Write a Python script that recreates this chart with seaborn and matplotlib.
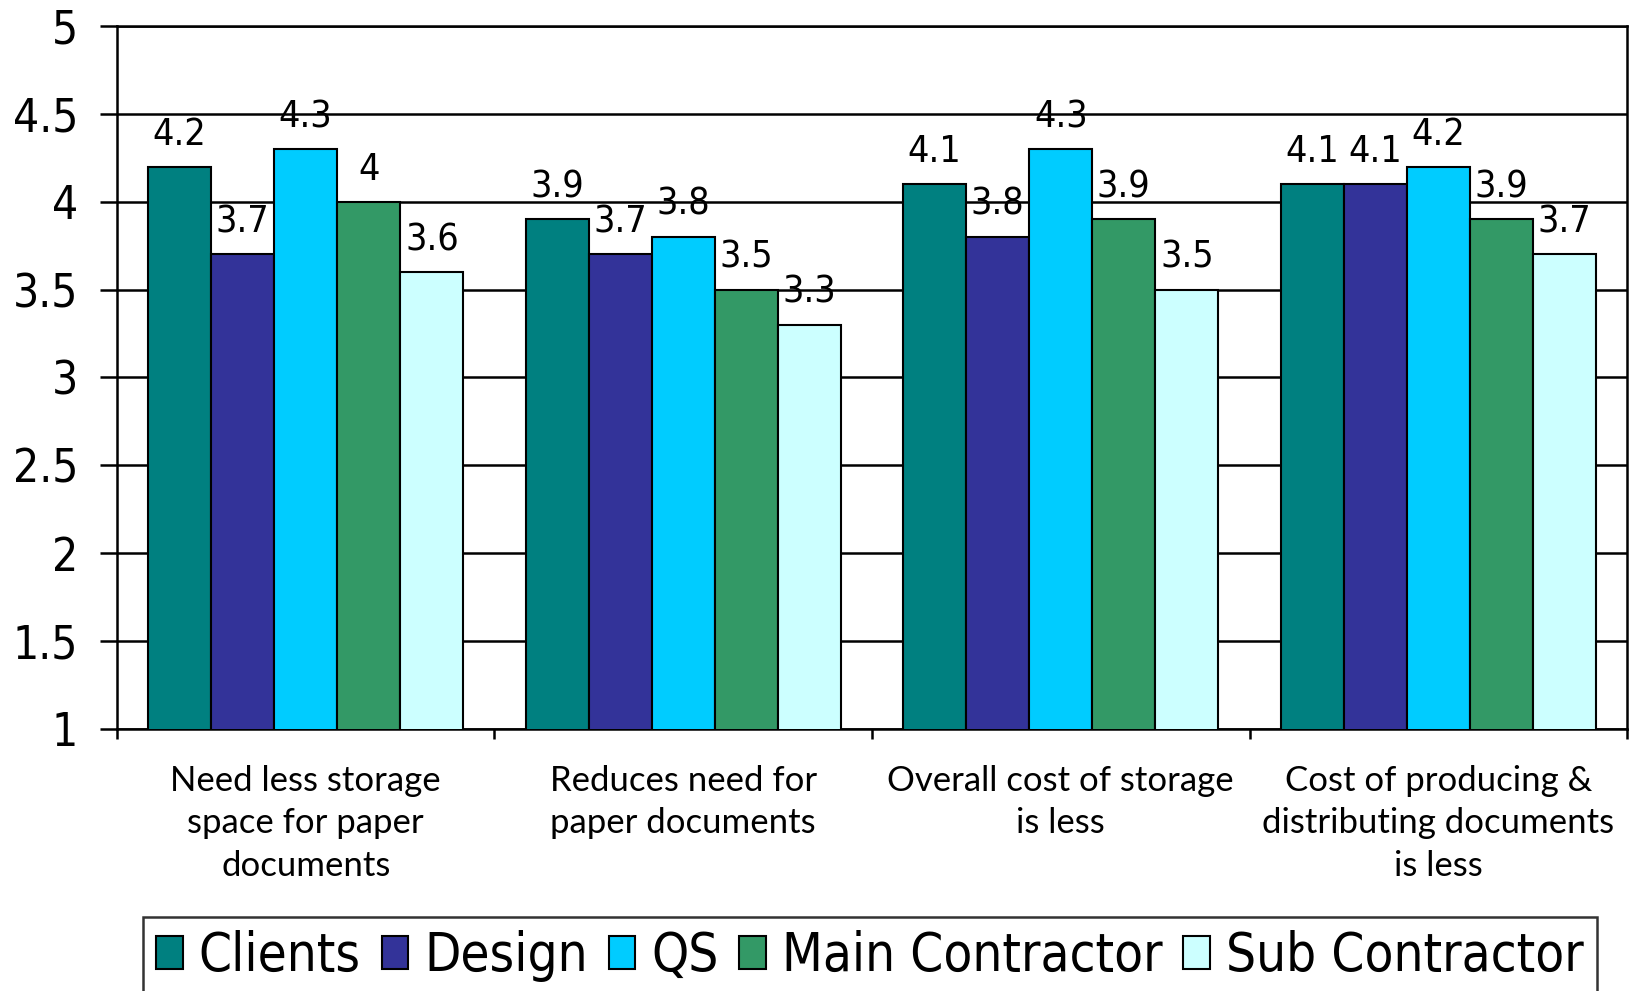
import matplotlib
matplotlib.use("Agg")
import matplotlib.pyplot as plt
import seaborn as sns
import pandas as pd
from matplotlib import font_manager

# data
categories = [
    "Need less storage\nspace for paper\ndocuments",
    "Reduces need for\npaper documents",
    "Overall cost of storage\nis less",
    "Cost of producing &\ndistributing documents\nis less",
]
groups = ["Clients", "Design", "QS", "Main Contractor", "Sub Contractor"]
clients = [4.2, 3.9, 4.1, 4.1]
design = [3.7, 3.7, 3.8, 4.1]
qs = [4.3, 3.8, 4.3, 4.2]
main_contractor = [4.0, 3.5, 3.9, 3.9]
sub_contractor = [3.6, 3.3, 3.5, 3.7]
colors = ["#008080", "#333399", "#00CCFF", "#339966", "#CCFFFF"]

series = [clients, design, qs, main_contractor, sub_contractor]
rows = []
for g, vals in zip(groups, series):
    for c, v in zip(categories, vals):
        rows.append({"category": c, "group": g, "value": v})
df = pd.DataFrame(rows)

sns.set_theme(style="white")
plt.rcParams["font.family"] = ["DejaVu Sans"]
plt.rcParams["text.color"] = "black"
plt.rcParams["xtick.color"] = "black"
plt.rcParams["ytick.color"] = "black"
narrow = font_manager.FontProperties(family="DejaVu Sans", stretch="condensed")

fig = plt.figure(figsize=(16.29, 9.91), dpi=100)
ax = fig.add_axes([0.0718, 0.2644, 0.9270, 0.7094])

sns.barplot(data=df, x="category", y="value", hue="group", order=categories,
            hue_order=groups, palette=colors, width=0.835, gap=0,
            edgecolor="black", linewidth=1.5, saturation=1, ax=ax, zorder=3)

ax.set_ylim(1, 5)
ax.set_xlim(-0.5, 3.5)
ax.set_yticks([1, 1.5, 2, 2.5, 3, 3.5, 4, 4.5, 5])
ax.set_yticklabels(["1", "1.5", "2", "2.5", "3", "3.5", "4", "4.5", "5"])
ax.yaxis.grid(True, color="black", linewidth=1.8, zorder=0)
ax.set_axisbelow(True)
for s in ax.spines.values():
    s.set_color("black")
    s.set_linewidth(1.8)

ax.set_xlabel("")
ax.set_ylabel("")
ax.tick_params(axis="y", which="major", left=True, length=12, width=1.8,
               color="black", labelcolor="black", pad=16)
for lbl in ax.get_yticklabels():
    lbl.set_fontproperties(narrow)
    lbl.set_fontsize(33)
ax.set_xticks([-0.5, 0.5, 1.5, 2.5, 3.5], minor=True)
ax.tick_params(axis="x", which="minor", bottom=True, length=7, width=1.8,
               color="black")
ax.tick_params(axis="x", which="major", bottom=False, length=0, pad=26,
               labelcolor="black")
for lbl in ax.get_xticklabels():
    lbl.set_family(["Lato", "DejaVu Sans"])
    lbl.set_fontsize(25)
    lbl.set_linespacing(1.4)

for cont in ax.containers:
    texts = ax.bar_label(cont, labels=[f"{v:g}" for v in cont.datavalues],
                         padding=10, fontsize=27, color="black")
    for t in texts:
        t.set_fontstretch("condensed")

handles, labels = ax.get_legend_handles_labels()
leg = ax.legend(handles, labels, loc="upper center",
                bbox_to_anchor=(0.534, 0.0747), bbox_transform=fig.transFigure,
                ncol=5, frameon=True, fancybox=False, edgecolor="black",
                prop=font_manager.FontProperties(family="DejaVu Sans",
                                                 stretch="condensed", size=38),
                handlelength=0.5, handleheight=0.6, handletextpad=0.3,
                columnspacing=0.4, borderpad=0.25, borderaxespad=0)
leg.get_frame().set_linewidth(1.8)
for t in leg.get_texts():
    t.set_color("black")

fig.savefig("out.png", dpi=100)
